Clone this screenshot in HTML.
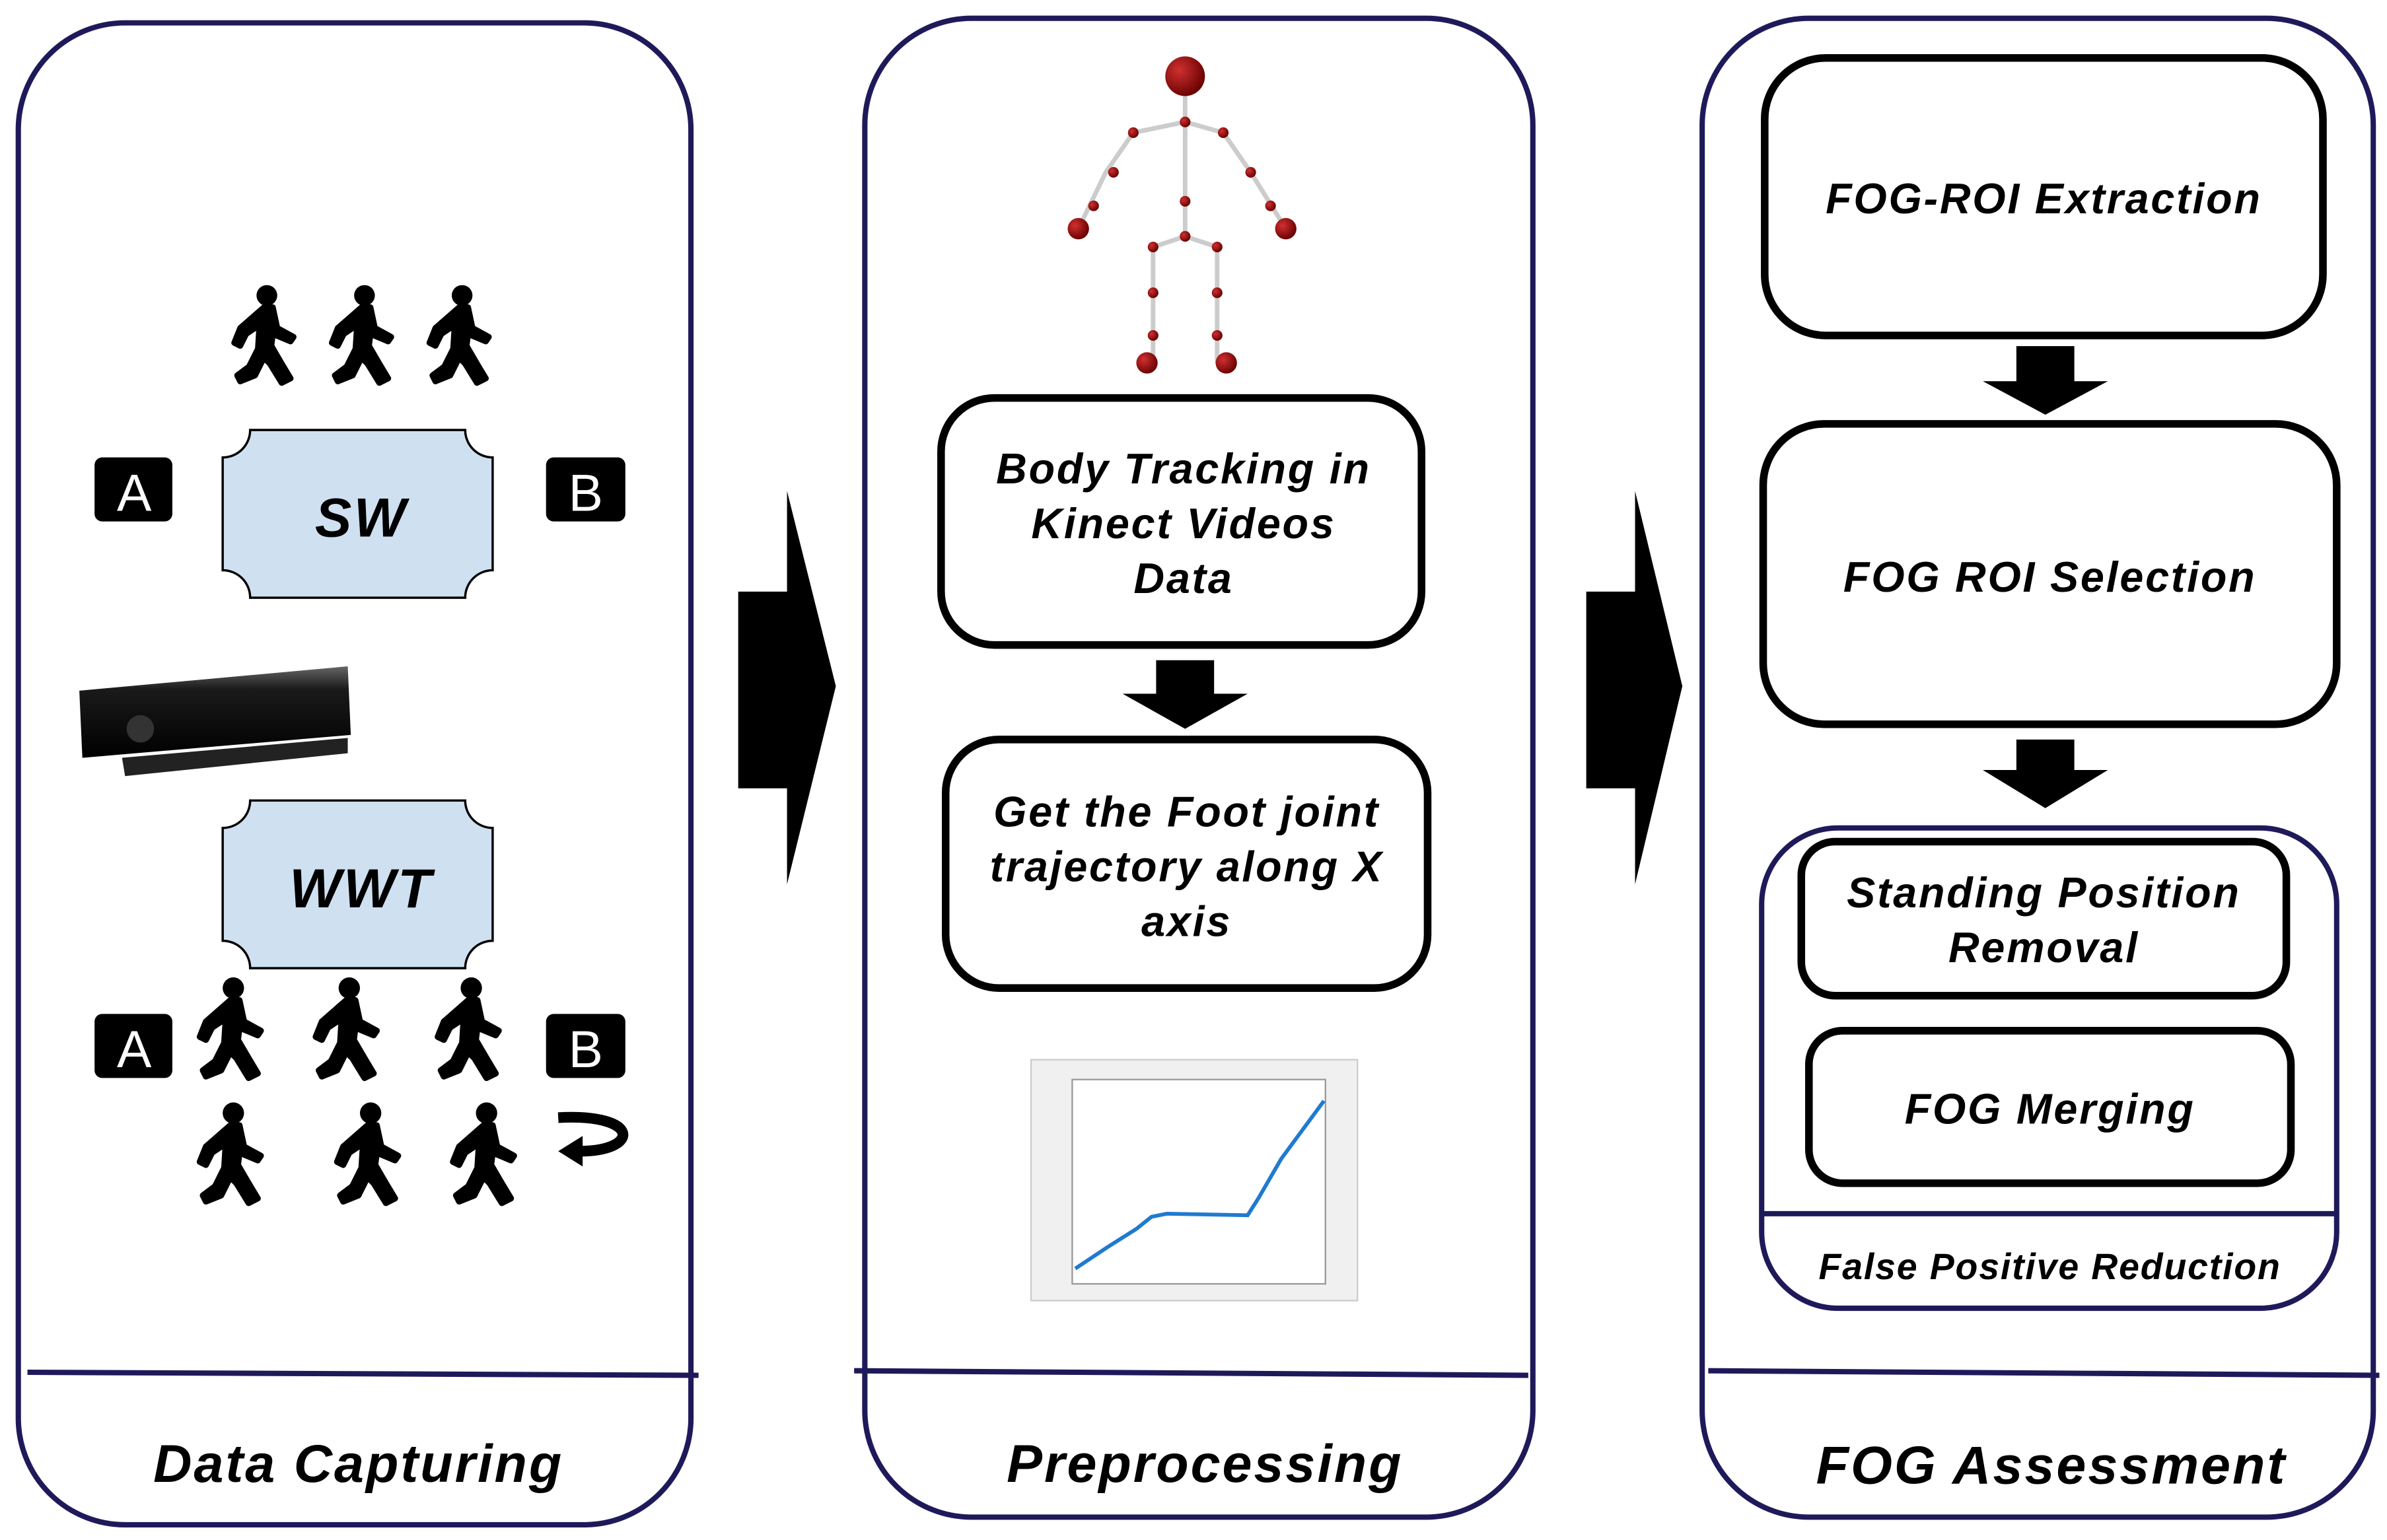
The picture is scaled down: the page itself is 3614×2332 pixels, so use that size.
<!DOCTYPE html>
<html><head><meta charset="utf-8"><style>
html,body{margin:0;padding:0;background:#fff}
svg{display:block}
text{font-family:"Liberation Sans",sans-serif;font-weight:bold;font-style:italic;fill:#000}
</style></head><body>
<svg width="3614" height="2332" viewBox="0 0 1565 1010" preserveAspectRatio="none" xmlns="http://www.w3.org/2000/svg">
<defs>
<symbol id="w" viewBox="0 0 50 70">
<circle cx="26" cy="8" r="7" fill="#000"/>
<path d="M24 16 L30 16 L33 30 L44 36 L42 39 L30 34 L29 42 L36 54 L42 64 L36 67 L28 54 L24 50 L18 62 L8 66 L6 62 L14 56 L20 44 L21 28 L12 34 L8 42 L4 40 L8 30 Z" fill="#000" stroke="#000" stroke-width="4" stroke-linejoin="round"/>
</symbol>
<linearGradient id="k" x1="0" y1="0" x2="0" y2="1"><stop offset="0" stop-color="#666"/><stop offset=".25" stop-color="#1a1a1a"/><stop offset="1" stop-color="#000"/></linearGradient>
<radialGradient id="j" cx=".35" cy=".35" r=".7"><stop offset="0" stop-color="#d03030"/><stop offset="1" stop-color="#600"/></radialGradient>
</defs>

<g fill="none" stroke="#1e1a5a" stroke-width="3.5">
<rect x="12" y="15" width="441" height="985" rx="70"/>
<line x1="18" y1="900" x2="458" y2="902"/>
<rect x="567" y="12" width="438" height="983" rx="70"/>
<line x1="560" y1="899" x2="1002" y2="902"/>
<rect x="1116" y="12" width="440" height="983" rx="70"/>
<line x1="1120" y1="899" x2="1560" y2="902"/>
</g>
<text x="235" y="972" font-size="35" text-anchor="middle" letter-spacing="1.3">Data Capturing</text>
<text x="790" y="972" font-size="35" text-anchor="middle" letter-spacing="1.3">Preprocessing</text>
<text x="1345" y="973" font-size="35" text-anchor="middle" letter-spacing="1.3">FOG Assessment</text>

<path d="M484 388 H516 V322 L548 450 L516 580 V517 H484 Z" fill="#000"/>
<path d="M1040 388 H1072 V322 L1103 450 L1072 580 V517 H1040 Z" fill="#000"/>

<use href="#w" x="148" y="186" width="52" height="68"/>
<use href="#w" x="212" y="186" width="52" height="68"/>
<use href="#w" x="276" y="186" width="52" height="68"/>
<rect x="62" y="300" width="51" height="42" rx="5" fill="#000"/>
<text x="88" y="335" font-size="34" text-anchor="middle" style="font-style:normal;font-weight:normal;fill:#fff">A</text>
<rect x="358" y="300" width="52" height="42" rx="5" fill="#000"/>
<text x="384" y="335" font-size="34" text-anchor="middle" style="font-style:normal;font-weight:normal;fill:#fff">B</text>
<path d="M164 282 H305 A18 18 0 0 0 323 300 V374 A18 18 0 0 0 305 392 H164 A18 18 0 0 0 146 374 V300 A18 18 0 0 0 164 282 Z" fill="#cfe0f1" stroke="#000" stroke-width="1.5"/>
<text x="237" y="352" font-size="36" text-anchor="middle" letter-spacing="1.5">SW</text>
<path d="M52 453 L228 437 L230 482 L54 497 Z" fill="url(#k)"/>
<path d="M80 497 L228 484 L228 494 L82 509 Z" fill="#222"/>
<circle cx="92" cy="478" r="9" fill="#333"/>
<path d="M164 525 H305 A18 18 0 0 0 323 543 V617 A18 18 0 0 0 305 635 H164 A18 18 0 0 0 146 617 V543 A18 18 0 0 0 164 525 Z" fill="#cfe0f1" stroke="#000" stroke-width="1.5"/>
<text x="237" y="595" font-size="36" text-anchor="middle" letter-spacing="1.5">WWT</text>
<rect x="62" y="665" width="51" height="42" rx="5" fill="#000"/>
<text x="88" y="700" font-size="34" text-anchor="middle" style="font-style:normal;font-weight:normal;fill:#fff">A</text>
<rect x="358" y="665" width="52" height="42" rx="5" fill="#000"/>
<text x="384" y="700" font-size="34" text-anchor="middle" style="font-style:normal;font-weight:normal;fill:#fff">B</text>
<use href="#w" x="122" y="640" width="60" height="70"/>
<use href="#w" x="198" y="640" width="60" height="70"/>
<use href="#w" x="278" y="640" width="60" height="70"/>
<use href="#w" x="122" y="722" width="60" height="70"/>
<use href="#w" x="212" y="722" width="60" height="70"/>
<use href="#w" x="288" y="722" width="60" height="70"/>
<path d="M366 733 C420 730 420 755 380 755" fill="none" stroke="#000" stroke-width="7"/>
<path d="M366 755 L382 745 L382 765 Z" fill="#000"/>

<g stroke="#ccc" stroke-width="3" fill="none">
<path d="M777 52 V132 M777 80 L743 87 L725 113 L707 150 M777 80 L802 87 L820 113 L843 150 M777 155 L756 162 V192 V220 V238 M777 155 L798 162 V192 V220 V238 M777 132 V155"/>
</g>
<g fill="url(#j)">
<circle cx="777" cy="50" r="13"/>
<circle cx="707" cy="150" r="7"/><circle cx="843" cy="150" r="7"/>
<circle cx="752" cy="238" r="7"/><circle cx="804" cy="238" r="7"/>
<circle cx="777" cy="80" r="3.5"/><circle cx="743" cy="87" r="3.5"/><circle cx="802" cy="87" r="3.5"/>
<circle cx="730" cy="113" r="3.5"/><circle cx="820" cy="113" r="3.5"/>
<circle cx="717" cy="135" r="3.5"/><circle cx="833" cy="135" r="3.5"/>
<circle cx="777" cy="132" r="3.5"/><circle cx="777" cy="155" r="3.5"/>
<circle cx="756" cy="162" r="3.5"/><circle cx="798" cy="162" r="3.5"/>
<circle cx="756" cy="192" r="3.5"/><circle cx="798" cy="192" r="3.5"/>
<circle cx="756" cy="220" r="3.5"/><circle cx="798" cy="220" r="3.5"/>
</g>
<g fill="none" stroke="#000" stroke-width="5">
<rect x="617" y="261" width="315" height="162" rx="35"/>
<rect x="620" y="485" width="316" height="163" rx="35"/>
</g>
<g font-size="28" text-anchor="middle" letter-spacing="1.2">
<text x="776" y="317">Body Tracking in</text>
<text x="776" y="353">Kinect Videos</text>
<text x="776" y="389">Data</text>
<text x="778" y="542">Get the Foot joint</text>
<text x="778" y="578">trajectory along X</text>
<text x="778" y="614">axis</text>
</g>
<path d="M758 433 H796 V455 H818 L777 478 L736 455 H758 Z" fill="#000"/>
<rect x="676" y="695" width="214" height="158" fill="#f0f0f0" stroke="#ccc" stroke-width="1"/>
<rect x="703" y="708" width="166" height="134" fill="#fff" stroke="#999" stroke-width="1"/>
<path d="M705 832 L726 818 L745 806 L755 798 L765 796 L818 797 L825 786 L840 760 L868 722" fill="none" stroke="#1f7ad0" stroke-width="2.5"/>

<g fill="none" stroke="#000" stroke-width="5">
<rect x="1157" y="38" width="366" height="182" rx="40"/>
<rect x="1156" y="278" width="376" height="197" rx="40"/>
<rect x="1181" y="552" width="318" height="101" rx="22"/>
<rect x="1186" y="676" width="316" height="100" rx="22"/>
</g>
<rect x="1155" y="543" width="377" height="315" rx="50" fill="none" stroke="#1e1a5a" stroke-width="3.5"/>
<line x1="1156" y1="796" x2="1531" y2="796" stroke="#1e1a5a" stroke-width="3.5"/>
<path d="M1322 227 H1360 V250 H1382 L1341 272 L1300 250 H1322 Z" fill="#000"/>
<path d="M1322 485 H1360 V505 H1382 L1341 530 L1300 505 H1322 Z" fill="#000"/>
<g font-size="28" text-anchor="middle" letter-spacing="1.2">
<text x="1340" y="140">FOG-ROI Extraction</text>
<text x="1344" y="388">FOG ROI Selection</text>
<text x="1340" y="595">Standing Position</text>
<text x="1340" y="631">Removal</text>
<text x="1344" y="737">FOG Merging</text>
</g>
<text x="1344" y="839" font-size="24" text-anchor="middle" letter-spacing="0.8">False Positive Reduction</text>
</svg>
</body></html>
